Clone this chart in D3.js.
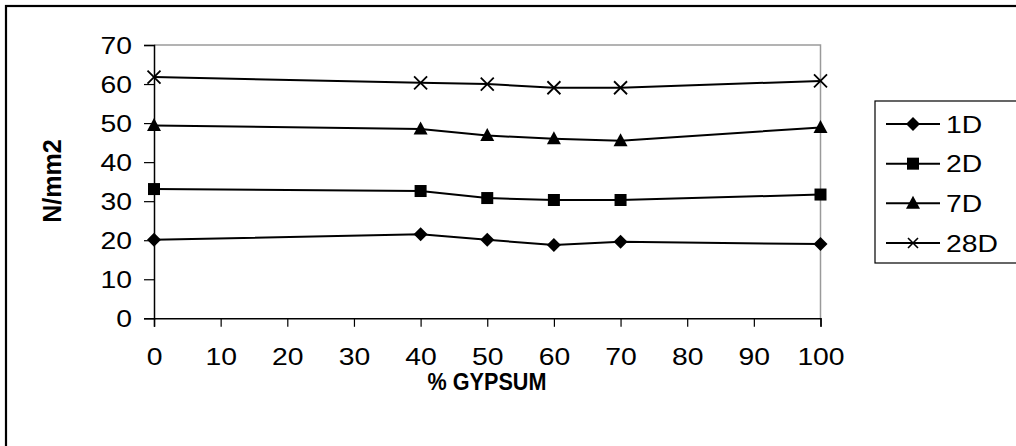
<!DOCTYPE html>
<html><head><meta charset="utf-8">
<script src="https://cdn.jsdelivr.net/npm/d3@7"></script>
<style>body{margin:0;background:#fff}svg{display:block}text{font-family:"Liberation Sans",Arial,sans-serif}</style>
</head><body><svg id="c" width="1016" height="446"></svg>
<script>
const gypsum = [0, 40, 50, 60, 70, 100];
const s1D  = [20.1, 21.5, 20.1, 18.8, 19.6, 19.0];
const s2D  = [33.1, 32.6, 30.8, 30.3, 30.3, 31.7];
const s7D  = [49.4, 48.5, 46.8, 46.0, 45.5, 48.9];
const s28D = [61.8, 60.3, 60.0, 59.05, 59.05, 60.8];
const seriesNames = ["1D", "2D", "7D", "28D"];
const xTicks = [0,10,20,30,40,50,60,70,80,90,100];
const yTicks = [0,10,20,30,40,50,60,70];

const svg = d3.select("#c");
const x = d3.scaleLinear().domain([0,100]).range([154, 820.5]);
const y = d3.scaleLinear().domain([0,70]).range([318.3, 45]);
const SX = 1.18; // horizontal stretch of reference text

// outer border
svg.append("rect").attr("x",6).attr("y",6).attr("width",1040).attr("height",480)
  .attr("fill","none").attr("stroke","#000").attr("stroke-width",2.2);

// plot area border (gray top/right)
svg.append("path").attr("d",`M${x(0)},${y(70)}H${x(100)}V${y(0)}`)
  .attr("fill","none").attr("stroke","#9a9a9a").attr("stroke-width",1.5);

const xAxis = svg.append("g").attr("transform",`translate(0,${y(0)})`)
  .call(d3.axisBottom(x).tickValues(xTicks).tickSize(8.5).tickPadding(21).tickFormat(d3.format("d")));
const yAxis = svg.append("g").attr("transform",`translate(${x(0)},0)`)
  .call(d3.axisLeft(y).tickValues(yTicks).tickSize(10).tickPadding(12).tickFormat(d3.format("d")));
[xAxis,yAxis].forEach(a=>{
  a.select(".domain").attr("stroke","#000").attr("stroke-width",1.5);
  a.selectAll(".tick line").attr("stroke","#000").attr("stroke-width",1.2);
  a.selectAll(".tick text").attr("font-size",24).attr("fill","#000")
   .attr("font-family","'Liberation Sans',Arial,sans-serif");
});
xAxis.selectAll(".tick text").attr("transform",`scale(${SX},1)`);
yAxis.selectAll(".tick text").each(function(){
  const t = d3.select(this); const x0 = +t.attr("x");
  t.attr("x",0).attr("dy","0.36em").attr("transform",`translate(${x0},0) scale(${SX},1)`);
});

svg.append("text").attr("x",0).attr("y",390).attr("text-anchor","middle")
  .attr("transform","translate(487,0) scale(0.9,1)")
  .attr("font-size",24).attr("font-weight","bold").text("% GYPSUM");
svg.append("text").attr("transform","translate(61,181) rotate(-90)").attr("text-anchor","middle")
  .attr("font-size",25).attr("font-weight","bold").text("N/mm2");

const data = [s1D, s2D, s7D, s28D];
const line = d3.line().x((d,i)=>x(gypsum[i])).y(d=>y(d));

function marker(g, k, cx, cy){
  if(k===0){ g.append("path").attr("d",`M${cx},${cy-7}L${cx+7},${cy}L${cx},${cy+7}L${cx-7},${cy}Z`).attr("fill","#000"); }
  else if(k===1){ g.append("rect").attr("x",cx-6).attr("y",cy-6).attr("width",12).attr("height",12).attr("fill","#000"); }
  else if(k===2){ g.append("path").attr("d",`M${cx},${cy-7.5}L${cx+7},${cy+5.5}L${cx-7},${cy+5.5}Z`).attr("fill","#000"); }
  else { g.append("path").attr("d",`M${cx-6.5},${cy-6.5}L${cx+6.5},${cy+6.5}M${cx+6.5},${cy-6.5}L${cx-6.5},${cy+6.5}`).attr("stroke","#000").attr("stroke-width",1.8); }
}

data.forEach((vals,k)=>{
  const g = svg.append("g");
  g.append("path").attr("d",line(vals)).attr("fill","none").attr("stroke","#000").attr("stroke-width",2);
  vals.forEach((v,i)=>marker(g,k,x(gypsum[i]),y(v)));
});

// legend
const lg = svg.append("g");
lg.append("rect").attr("x",875).attr("y",101).attr("width",200).attr("height",162)
  .attr("fill","#fff").attr("stroke","#000").attr("stroke-width",1.2);
const rowY = d3.scaleLinear().domain([0,3]).range([124, 243]);
seriesNames.forEach((n,k)=>{
  const cy = rowY(k);
  lg.append("line").attr("x1",886).attr("x2",940).attr("y1",cy).attr("y2",cy).attr("stroke","#000").attr("stroke-width",2);
  const mg = lg.append("g");
  if(k===3){ mg.append("path").attr("d",`M${913-5},${cy-5}L${913+5},${cy+5}M${913+5},${cy-5}L${913-5},${cy+5}`).attr("stroke","#000").attr("stroke-width",1.6); }
  else marker(mg,k,913,cy);
  lg.append("text").attr("x",0).attr("y",cy).attr("dy","0.36em").attr("font-size",24)
    .attr("transform",`translate(946,0) scale(${SX},1)`).text(n);
});
</script></body></html>
